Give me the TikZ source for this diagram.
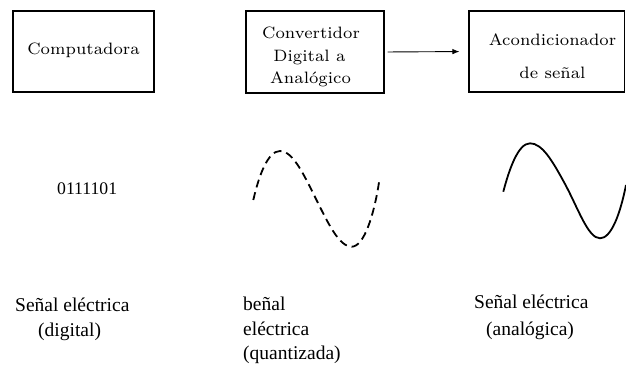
\documentclass[tikz,border=0pt]{standalone}
\usepackage{fontspec}
\setmainfont{Liberation Serif}
\newfontfamily\boxfont{lmroman7-regular}[Extension=.otf]
\usetikzlibrary{arrows.meta}
\begin{document}
\begin{tikzpicture}[x=1pt,y=-1pt,
  blk/.style={draw, line width=1.1pt, inner sep=0pt},
  btxt/.style={font=\boxfont\fontsize{16.5}{18}\selectfont, anchor=base, inner sep=0pt},
  lbl/.style={font=\fontsize{19.5}{23}\selectfont, anchor=base west, inner sep=0pt},
  wave/.style={line width=1.8pt},
  conn/.style={line width=0.9pt, -{Latex[length=7pt,width=5.5pt]}}]
\useasboundingbox (0,0) rectangle (626,367);
% boxes
\node[blk, minimum width=141pt, minimum height=81pt] (b1) at (83.5,51.5) {};
\node[blk, minimum width=138pt, minimum height=82pt] (b2) at (315,52) {};
\node[blk, minimum width=155.5pt, minimum height=81pt] (b3) at (546.75,51.5) {};
% box texts
\node[btxt] (t1) at (83.5,54) {Computadora};
\node[btxt] (t2a) at (311,38) {Convertidor};
\node[btxt] (t2b) at (309.5,61) {Digital a};
\node[btxt] (t2c) at (310.5,83) {Analógico};
\node[btxt] (t3a) at (552.5,45) {Acondicionador};
\node[btxt] (t3b) at (552.5,78) {de señal};
% connector
\draw[conn, shorten <=3pt, shorten >=9pt] (b2.east) -- (b3.west);
% signals
\node[font=\fontsize{17.7}{20}\selectfont, anchor=base west, inner sep=0pt] (dig) at (57,194) {0111101};
\draw[wave, dash pattern=on 8pt off 5pt] (253.3,200) .. controls (259,175) and (268,151) .. (280,151)
  .. controls (293,151) and (304,175) .. (316,199)
  .. controls (328,223) and (339,246.7) .. (351.7,246.7)
  .. controls (364,246.7) and (374,215) .. (379,182.3);
\draw[wave] (503.3,191.7) .. controls (509,170) and (518,143.3) .. (530,143.3)
  .. controls (542,143.3) and (552,160) .. (565,184)
  .. controls (578,208) and (588,238.3) .. (600,238.3)
  .. controls (611,238.3) and (620,215) .. (626,185);
% labels
\node[lbl] (l1a) at (15,311) {Señal eléctrica};
\node[lbl] (l1b) at (38,336) {(digital)};
\node[lbl] (l2a) at (243,310) {beñal};
\node[lbl] (l2b) at (243,335) {eléctrica};
\node[lbl] (l2c) at (243,359) {(quantizada)};
\node[lbl] (l3a) at (474,308) {Señal eléctrica};
\node[lbl] (l3b) at (486,335) {(analógica)};
\end{tikzpicture}
\end{document}
